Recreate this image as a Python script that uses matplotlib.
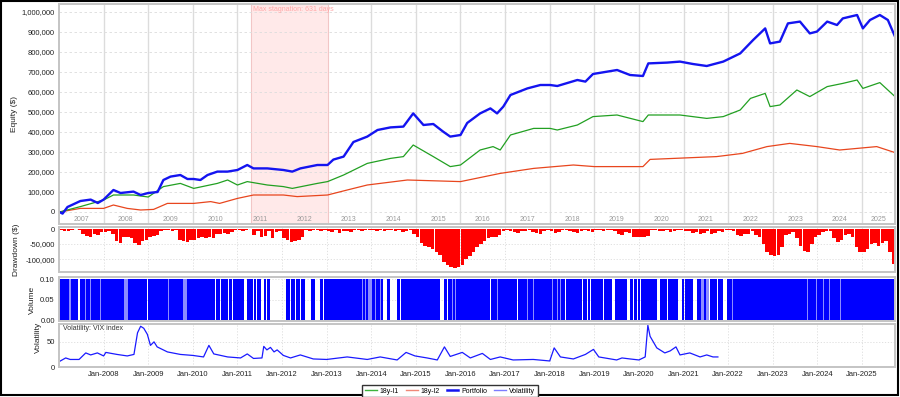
import numpy as np
import matplotlib
matplotlib.use("Agg")
import matplotlib.pyplot as plt
import matplotlib.transforms as mtransforms
from matplotlib.ticker import FuncFormatter
from matplotlib.lines import Line2D
from matplotlib.patches import Rectangle

plt.rcParams["font.family"] = ["Liberation Sans", "DejaVu Sans"]

# ── equity curves: keypoints (decimal year, k$) ────────────────────────────────
port_t = [2007.01, 2007.08, 2007.19, 2007.48, 2007.71, 2007.87, 2008.00, 2008.22,
          2008.38, 2008.67, 2008.83, 2009.00, 2009.21, 2009.34, 2009.50, 2009.72,
          2009.88, 2010.02, 2010.17, 2010.33, 2010.55, 2010.78, 2011.00, 2011.22,
          2011.36, 2011.67, 2012.03, 2012.23, 2012.41, 2012.79, 2013.02, 2013.15,
          2013.38, 2013.60, 2013.91, 2014.14, 2014.43, 2014.72, 2014.94, 2015.17,
          2015.39, 2015.61, 2015.77, 2016.00, 2016.15, 2016.44, 2016.67, 2016.82,
          2016.96, 2017.12, 2017.50, 2017.79, 2018.01, 2018.17, 2018.62, 2018.80,
          2018.97, 2019.51, 2019.80, 2020.09, 2020.21, 2020.63, 2020.92, 2021.21,
          2021.52, 2021.89, 2022.27, 2022.56, 2022.83, 2022.94, 2023.16, 2023.34,
          2023.61, 2023.83, 2023.99, 2024.22, 2024.44, 2024.57, 2024.89, 2025.02,
          2025.18, 2025.40, 2025.58, 2025.74]
port_k = [0, -8, 25, 55, 62, 45, 62, 110,
          95, 102, 85, 95, 100, 160, 177, 185,
          165, 165, 160, 185, 202, 202, 210, 235,
          218, 218, 210, 202, 218, 235, 235, 262,
          277, 350, 377, 410, 423, 427, 493, 435,
          440, 402, 377, 385, 445, 493, 518, 493,
          527, 585, 618, 635, 635, 630, 660, 652,
          690, 710, 685, 680, 743, 747, 752, 740,
          730, 752, 793, 860, 918, 843, 852, 943,
          952, 893, 902, 952, 935, 968, 985, 918,
          960, 985, 960, 877]

l1_t = [2007.01, 2007.48, 2008.00, 2008.22, 2008.67, 2009.00, 2009.34, 2009.72,
        2010.02, 2010.55, 2010.78, 2011.00, 2011.22, 2011.67, 2012.03, 2012.23,
        2012.79, 2013.02, 2013.38, 2013.91, 2014.43, 2014.72, 2014.94, 2015.39,
        2015.77, 2016.00, 2016.44, 2016.73, 2016.89, 2017.12, 2017.64, 2018.01,
        2018.17, 2018.62, 2018.97, 2019.51, 2020.09, 2020.21, 2020.92, 2021.52,
        2021.89, 2022.27, 2022.50, 2022.83, 2022.94, 2023.16, 2023.54, 2023.83,
        2024.22, 2024.57, 2024.89, 2025.02, 2025.40, 2025.74]
l1_k = [0, 27, 60, 85, 85, 75, 127, 143,
        118, 143, 160, 135, 152, 135, 127, 118,
        143, 152, 185, 243, 268, 277, 335, 277,
        227, 235, 310, 327, 310, 385, 418, 418,
        410, 435, 477, 485, 452, 485, 485, 468,
        477, 510, 568, 593, 527, 535, 610, 577,
        627, 643, 660, 618, 647, 577]

l2_t = [2007.01, 2007.48, 2008.00, 2008.22, 2008.53, 2008.83, 2009.12, 2009.43,
        2010.02, 2010.40, 2010.60, 2011.00, 2011.36, 2012.03, 2012.34, 2013.02,
        2013.46, 2013.91, 2014.81, 2016.00, 2016.89, 2017.64, 2018.53, 2019.00,
        2020.09, 2020.25, 2021.74, 2022.32, 2022.87, 2023.38, 2023.99, 2024.50,
        2025.33, 2025.74]
l2_k = [0, 18, 18, 35, 18, 10, 13, 43,
        43, 52, 43, 68, 85, 85, 77, 85,
        110, 135, 160, 152, 193, 218, 235, 227,
        227, 263, 277, 293, 327, 343, 327, 310,
        327, 297]

# ── drawdown, monthly from Jan-2007 (k$) ───────────────────────────────────────
dd_k = [-3, -8, -5, -2, -1, -3, -15, -22, -25, -18, -20, -10,
        -10, -8, -15, -40, -48, -28, -25, -30, -45, -53, -40, -35,
        -28, -22, -20, -5, -3, -2, -8, -3, -35, -40, -42, -35,
        -35, -30, -28, -30, -25, -30, -18, -15, -12, -15, -10, -2,
        -3, -5, -2, -1, -20, -8, -25, -22, -5, -30, -10, -5,
        -30, -38, -42, -40, -35, -25, -3, -8, -2, -3, -5, -3,
        -5, -10, -3, -12, -8, -5, -10, -3, -2, -5, -3, -2,
        -3, -5, -2, -8, -3, -2, -5, -3, -10, -8, -2, -15,
        -25, -45, -55, -60, -65, -75, -85, -110, -120, -125, -130, -128,
        -120, -100, -90, -75, -60, -50, -40, -30, -25, -28, -20, -5,
        -3, -8, -10, -12, -5, -8, -3, -10, -12, -15, -8, -3,
        -8, -12, -10, -3, -2, -5, -10, -12, -8, -3, -5, -10,
        -2, -3, -5, -3, -2, -8, -18, -20, -10, -12, -25, -28,
        -25, -28, -22, -3, -2, -5, -8, -3, -10, -5, -3, -2,
        -5, -8, -12, -10, -15, -12, -8, -15, -12, -5, -10, -3,
        -3, -8, -20, -22, -15, -18, -5, -20, -25, -50, -75, -88,
        -90, -85, -60, -20, -15, -10, -30, -55, -72, -75, -50, -25,
        -20, -10, -8, -5, -30, -42, -35, -20, -15, -25, -60, -75,
        -78, -65, -50, -45, -55, -48, -40, -75, -115]

# ── volume: position size and periods without / with partial position ──────────
vol_level = 0.10
vol_span = (2007.0, 2025.74)
vol_gaps = [(2007.43, 2007.46), (2008.98, 2009.00), (2010.49, 2010.51), (2010.61, 2010.63),
            (2010.79, 2010.81), (2010.88, 2010.90), (2011.14, 2011.22), (2011.34, 2011.36),
            (2011.41, 2011.43), (2011.52, 2011.59), (2011.65, 2011.67), (2011.72, 2012.08),
            (2012.18, 2012.20), (2012.29, 2012.31), (2012.40, 2012.42), (2012.52, 2012.66),
            (2012.74, 2012.84), (2012.92, 2012.95), (2014.27, 2014.36), (2014.41, 2014.58),
            (2014.64, 2014.66), (2015.55, 2015.62), (2015.69, 2015.71), (2016.66, 2016.68),
            (2017.26, 2017.28), (2018.34, 2018.36), (2018.40, 2018.42), (2018.49, 2018.51),
            (2018.72, 2018.74), (2018.83, 2018.85), (2018.90, 2018.92), (2019.19, 2019.21),
            (2019.40, 2019.47), (2019.52, 2019.54), (2019.61, 2019.63), (2019.74, 2019.80),
            (2019.86, 2019.88), (2019.95, 2019.97), (2020.02, 2020.04), (2020.41, 2020.47),
            (2020.53, 2020.55), (2020.64, 2020.66), (2020.73, 2020.75), (2020.88, 2020.97),
            (2021.02, 2021.04), (2021.09, 2021.11), (2021.21, 2021.30), (2021.36, 2021.38),
            (2021.47, 2021.49), (2021.58, 2021.60), (2021.65, 2021.67), (2021.76, 2021.78),
            (2021.89, 2021.97)]
vol_light = [(2007.22, 2007.26), (2007.59, 2007.61), (2007.70, 2007.72), (2007.92, 2007.94),
             (2008.45, 2008.54), (2009.45, 2009.47), (2009.77, 2009.88), (2013.79, 2013.81),
             (2013.86, 2013.88), (2013.93, 2014.02), (2014.08, 2014.10), (2014.19, 2014.21),
             (2015.81, 2015.83), (2015.87, 2015.89), (2016.81, 2016.83), (2017.49, 2017.51),
             (2017.62, 2017.64), (2017.84, 2017.86), (2017.93, 2017.95), (2018.05, 2018.07),
             (2018.16, 2018.18), (2018.23, 2018.25), (2021.39, 2021.46), (2021.50, 2021.57),
             (2022.08, 2022.10), (2023.76, 2023.78), (2023.98, 2024.00), (2024.12, 2024.14),
             (2024.27, 2024.29), (2024.34, 2024.36), (2024.50, 2024.52)]

# ── VIX keypoints ──────────────────────────────────────────────────────────────
vix_t = [2007.01, 2007.15, 2007.25, 2007.45, 2007.60, 2007.71, 2007.86, 2008.00,
         2008.05, 2008.30, 2008.53, 2008.68, 2008.76, 2008.83, 2008.90, 2008.98,
         2009.05, 2009.13, 2009.20, 2009.43, 2009.72, 2010.00, 2010.24, 2010.36,
         2010.47, 2010.78, 2011.07, 2011.22, 2011.36, 2011.55, 2011.59, 2011.66,
         2011.74, 2011.82, 2011.89, 2012.03, 2012.19, 2012.41, 2012.70, 2013.00,
         2013.46, 2013.91, 2014.20, 2014.58, 2014.78, 2014.98, 2015.25, 2015.48,
         2015.64, 2015.77, 2016.04, 2016.22, 2016.49, 2016.67, 2016.89, 2017.18,
         2017.63, 2018.00, 2018.10, 2018.24, 2018.53, 2018.80, 2018.98, 2019.10,
         2019.50, 2019.62, 2019.80, 2020.00, 2020.14, 2020.20, 2020.25, 2020.40,
         2020.58, 2020.70, 2020.83, 2020.92, 2021.14, 2021.37, 2021.52, 2021.66,
         2021.77]
vix_v = [11, 18, 15, 15, 28, 24, 28, 22,
         29, 25, 22, 25, 68, 81, 77, 65,
         43, 50, 40, 30, 25, 23, 20, 43,
         26, 20, 18, 26, 17, 18, 41, 34,
         39, 30, 34, 23, 18, 24, 16, 15,
         20, 15, 20, 14, 29, 22, 18, 14,
         40, 21, 29, 18, 27, 15, 20, 14,
         15, 12, 38, 20, 16, 25, 35, 20,
         14, 18, 16, 14, 20, 83, 61, 38,
         28, 32, 40, 24, 28, 20, 24, 20,
         20]

stag_span = (2011.31, 2013.02)
stag_label = "Max stagnation: 631 days"
years = list(range(2007, 2026))

XMIN, XMAX = 2007.0, 2025.74
GRID = "#dcdcdc"
SPINE = "#c4c4c4"

fig = plt.figure(figsize=(9, 3.97), dpi=100)


def panel(top, bot):
    ax = fig.add_axes([59 / 900, 1 - bot / 397, 836 / 900, (bot - top) / 397])
    ax.set_xlim(XMIN, XMAX)
    for sp in ax.spines.values():
        sp.set_edgecolor(SPINE)
        sp.set_linewidth(1.4)
    ax.tick_params(length=0, labelsize=5.5, colors="#222", pad=3)
    ax.set_xticks(years[1:])
    ax.set_xticklabels([])
    return ax


ax1 = panel(4, 224)
ax2 = panel(227, 272)
ax3 = panel(277, 321)
ax4 = panel(324, 367)

# ── equity ─────────────────────────────────────────────────────────────────────
ax1.set_ylim(-60000, 1040000)
ax1.set_yticks(np.arange(0, 1000001, 100000))
ax1.yaxis.set_major_formatter(FuncFormatter(lambda v, p: f"{int(v):,}"))
ax1.grid(axis="y", color=GRID, linestyle=(0, (3, 3)), linewidth=0.6)
for y in years[1:]:
    ax1.axvline(y, color=GRID, linewidth=1.0, zorder=0)
ax1.axvspan(*stag_span, facecolor="#ffe9e9", edgecolor="#f2c6c6", linewidth=0.8, zorder=0)
ax1.text(stag_span[0] + 0.04, 1012000, stag_label, fontsize=5, color="#ffa8a8",
         va="center", ha="left")
trans = mtransforms.blended_transform_factory(ax1.transData, ax1.transAxes)
for y in years:
    c = (max(y, XMIN) + min(y + 1, XMAX)) / 2
    ax1.text(c, 0.022, str(y), transform=trans, ha="center", va="center",
             fontsize=5, color="#9a9a9a")

ax1.plot(l2_t, np.array(l2_k) * 1000, color="#e8461e", linewidth=0.9)
ax1.plot(l1_t, np.array(l1_k) * 1000, color="#22a022", linewidth=0.9)
ax1.plot(port_t, np.array(port_k) * 1000, color="#1414f0", linewidth=1.7)

# ── drawdown ───────────────────────────────────────────────────────────────────
dd_x = XMIN + (np.arange(len(dd_k)) + 0.5) / 12
ax2.bar(dd_x, np.array(dd_k) * 1000, width=0.078, color="#ff0000", linewidth=0)
ax2.set_ylim(-143000, 6700)
ax2.set_yticks([0, -50000, -100000])
ax2.yaxis.set_major_formatter(FuncFormatter(lambda v, p: f"{int(v):,}"))
ax2.grid(color=GRID, linestyle=(0, (1.5, 2)), linewidth=0.6)
ax2.set_axisbelow(True)

# ── volume ─────────────────────────────────────────────────────────────────────
active, start = [], vol_span[0]
for g0, g1 in sorted(vol_gaps):
    active.append((start, g0 - start))
    start = g1
active.append((start, vol_span[1] - start))
ax3.broken_barh(active, (0, vol_level), facecolors="#0000ff", linewidth=0)
ax3.broken_barh([(a, b - a) for a, b in vol_light], (0, vol_level),
                facecolors="#8c8cff", linewidth=0)
ax3.set_ylim(-0.002, 0.105)
ax3.set_yticks([0, 0.05, 0.10])
ax3.yaxis.set_major_formatter(FuncFormatter(lambda v, p: f"{v:.2f}"))
ax3.grid(color=GRID, linestyle=(0, (1.5, 2)), linewidth=0.6)
ax3.set_axisbelow(True)

# ── volatility ─────────────────────────────────────────────────────────────────
ax4.plot(vix_t, vix_v, color="#1a1aff", linewidth=0.9)
ax4.set_ylim(0, 85.5)
ax4.set_yticks([0, 50])
ax4.grid(color=GRID, linestyle=(0, (1.5, 2)), linewidth=0.6)
ax4.set_axisbelow(True)
ax4.set_xticklabels([f"Jan-{y}" for y in years[1:]])
ax4.text(0.005, 0.9, "Volatility: VIX index", transform=ax4.transAxes,
         fontsize=5, color="#333", va="center", ha="left")

# ── axis titles ────────────────────────────────────────────────────────────────
for txt, x, y in [("Equity ($)", 15, 114), ("Drawdown ($)", 17, 250),
                  ("Volume", 32, 300), ("Volatility", 38, 337)]:
    fig.text(x / 900, 1 - y / 397, txt, rotation=90, ha="center", va="center",
             fontsize=6, color="#222")

handles = [Line2D([], [], color="#3cb43c", lw=1),
           Line2D([], [], color="#f08878", lw=1),
           Line2D([], [], color="#1414f0", lw=1.8),
           Line2D([], [], color="#7c7cff", lw=1)]
fig.legend(handles, ["18y-l1", "18y-l2", "Portfolio", "Volatility"],
           loc="lower center", bbox_to_anchor=(0.5, -0.01), ncol=4, fontsize=5,
           fancybox=False, edgecolor="#333", framealpha=1, handlelength=1.7,
           columnspacing=1.0, handletextpad=0.4, borderpad=0.4)

fig.patches.append(Rectangle((1 / 900, 2 / 397), 897 / 900, 394 / 397,
                             transform=fig.transFigure, fill=False,
                             edgecolor="black", linewidth=1.5))

fig.savefig("out.png", dpi=100)
